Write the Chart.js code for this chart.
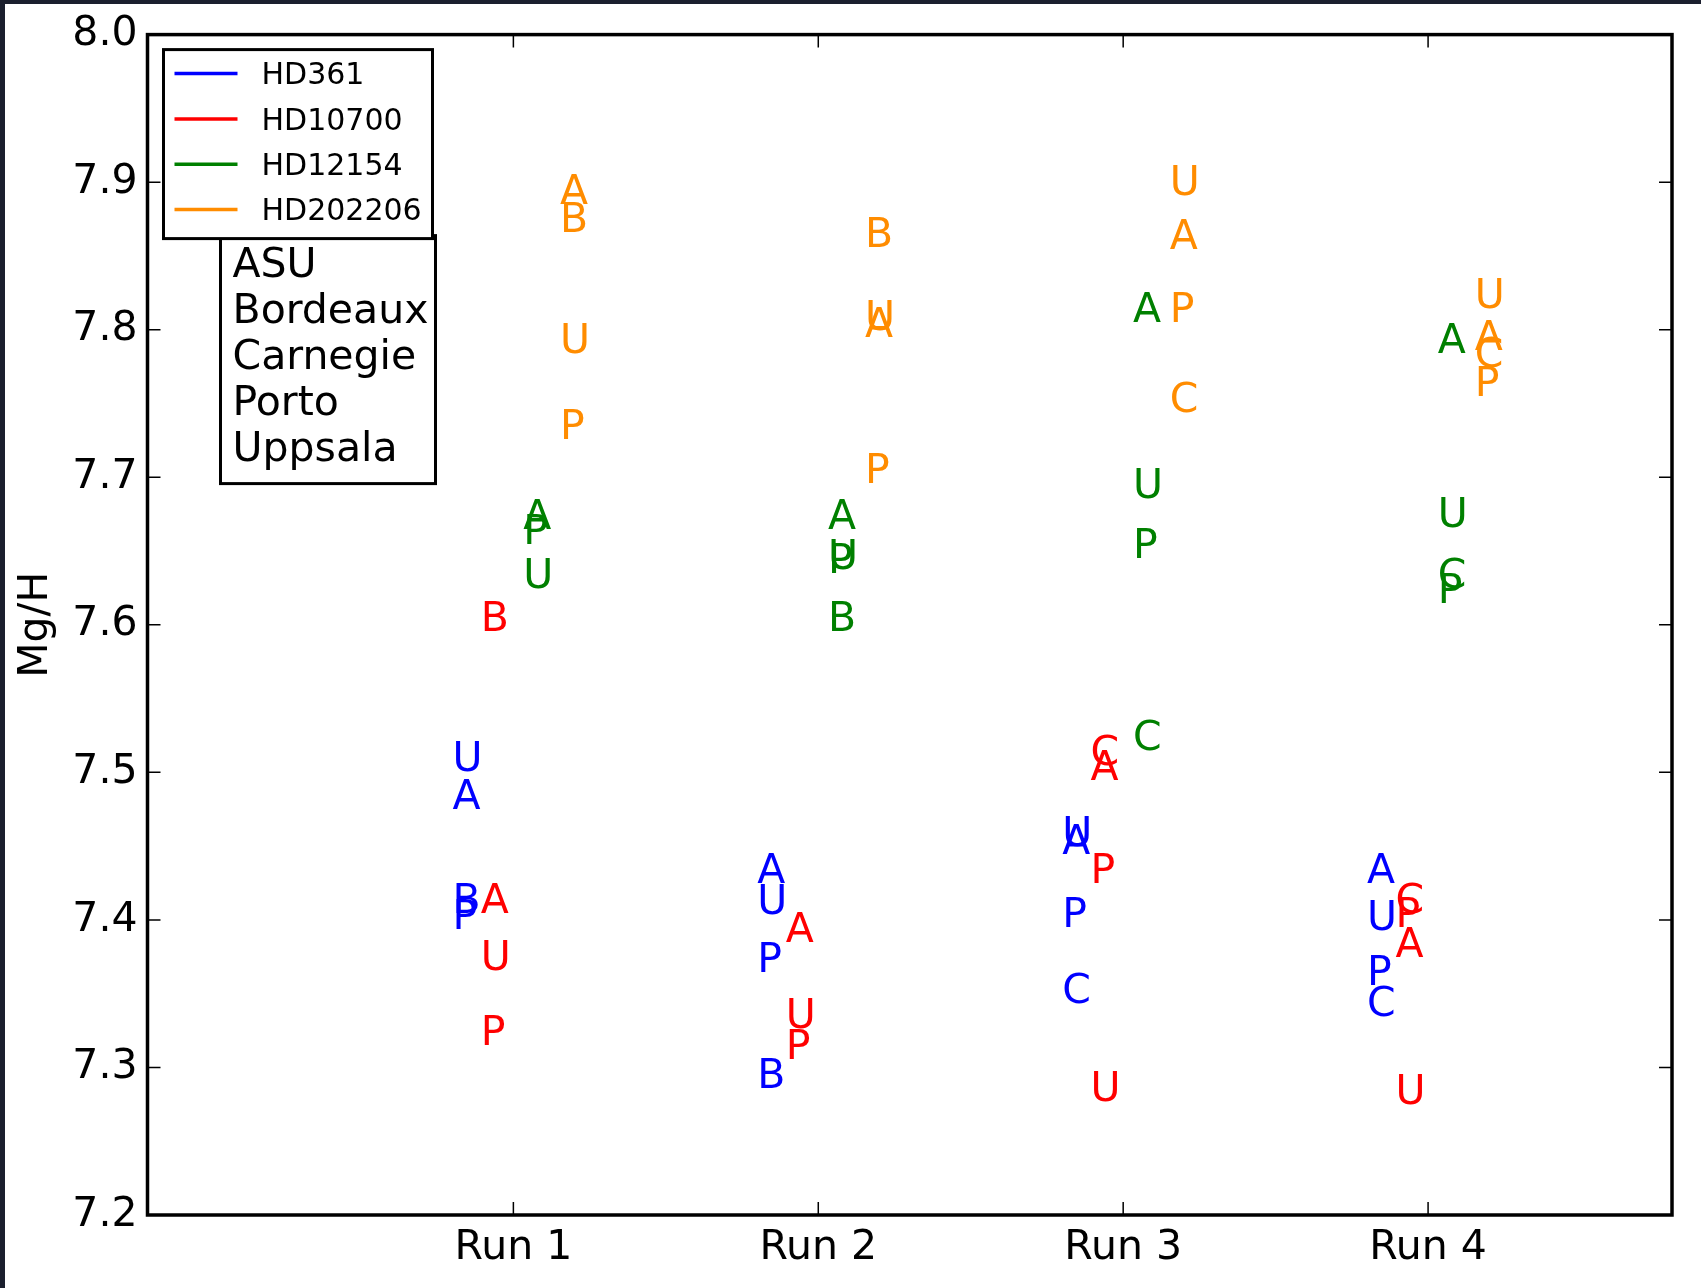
<!DOCTYPE html>
<html>
<head>
<meta charset="utf-8">
<script src="https://cdn.jsdelivr.net/npm/chart.js@4.4.1/dist/chart.umd.min.js"></script>
<style>
  html, body { margin: 0; padding: 0; background: #fff; }
</style>
</head>
<body>
<canvas id="MgH" width="1701" height="1288"></canvas>
<script>
var runs = ['Run 1', 'Run 2', 'Run 3', 'Run 4']
var stars = ['HD361', 'HD10700', 'HD12154', 'HD202206']
var labs = ['ASU', 'Bordeaux', 'Carnegie', 'Porto', 'Uppsala']
var labLetters = ['A', 'B', 'C', 'P', 'U']
var yTicks = [7.2, 7.3, 7.4, 7.5, 7.6, 7.7, 7.8, 7.9, 8.0]

// Mg/H for each lab (rows in labs order), one value per run, null = no result
var HD361 = [
    [7.475, 7.425, 7.445, 7.425],
    [7.405, 7.286, null, null],
    [null, null, 7.344, 7.335],
    [7.394, 7.365, 7.395, 7.356],
    [7.501, 7.404, 7.450, 7.393]
]
var HD10700 = [
    [7.405, 7.385, 7.495, 7.375],
    [7.596, null, null, null],
    [null, null, 7.505, 7.405],
    [7.315, 7.306, 7.425, 7.395],
    [7.366, 7.327, 7.277, 7.275]
]
var HD12154 = [
    [7.665, 7.665, 7.805, 7.784],
    [null, 7.596, null, null],
    [null, null, 7.515, 7.625],
    [7.655, 7.635, 7.645, 7.615],
    [7.625, 7.638, 7.686, 7.666]
]
var HD202206 = [
    [7.885, 7.795, 7.855, 7.786],
    [7.866, 7.856, null, null],
    [null, null, 7.744, 7.775],
    [7.726, 7.696, 7.805, 7.755],
    [7.784, 7.800, 7.891, 7.815]
]
var starValues = [HD361, HD10700, HD12154, HD202206]

var starColors = ['#0000ff', '#ff0000', '#008000', '#ff8c00']
var starShift = [-0.2, -0.107, 0.032, 0.153]   // letters sit a little left/right of the run tick
var FONT = 'DejaVu Sans'

var datasets = stars.map((star, s) => {
    var pts = []
    starValues[s].forEach((row, l) => {
        row.forEach((v, r) => {
            if (v !== null) pts.push({ x: r + 1 + starShift[s], y: v, letter: labLetters[l] })
        })
    })
    return { label: star, data: pts, color: starColors[s] }
})

// draw each point as its lab letter (text anchored left / baseline like matplotlib)
var letterPlugin = {
    id: 'letters',
    afterDatasetsDraw(chart) {
        var ctx = chart.ctx
        ctx.save()
        ctx.font = '41px "' + FONT + '"'
        ctx.textAlign = 'left'
        ctx.textBaseline = 'alphabetic'
        chart.data.datasets.forEach((ds, i) => {
            ctx.fillStyle = ds.color
            chart.getDatasetMeta(i).data.forEach((el, j) => {
                ctx.fillText(ds.data[j].letter, el.x, el.y)
            })
        })
        ctx.restore()
    }
}

// white page with the dark screenshot edges, then frame + inward ticks + the two legend boxes
var framePlugin = {
    id: 'frame',
    beforeDraw(chart) {
        var ctx = chart.ctx
        ctx.save()
        ctx.fillStyle = '#fff'
        ctx.fillRect(0, 0, chart.width, chart.height)
        ctx.restore()
    },
    afterDraw(chart) {
        var ctx = chart.ctx
        var ca = chart.chartArea
        var xs = chart.scales.x, ys = chart.scales.y
        ctx.save()
        ctx.strokeStyle = '#000'
        ctx.lineWidth = 1.5
        ctx.beginPath()
        xs.ticks.forEach(t => {
            var px = xs.getPixelForValue(t.value)
            ctx.moveTo(px, ca.bottom); ctx.lineTo(px, ca.bottom - 13)
            ctx.moveTo(px, ca.top); ctx.lineTo(px, ca.top + 13)
        })
        ys.ticks.forEach(t => {
            var py = ys.getPixelForValue(t.value)
            ctx.moveTo(ca.left, py); ctx.lineTo(ca.left + 13, py)
            ctx.moveTo(ca.right, py); ctx.lineTo(ca.right - 13, py)
        })
        ctx.stroke()
        ctx.lineWidth = 3.5
        ctx.strokeRect(ca.left, ca.top, ca.right - ca.left, ca.bottom - ca.top)

        // lab legend (behind)
        var bx = ca.left + 73, by = ca.top + 201
        ctx.fillStyle = '#fff'
        ctx.lineWidth = 3
        ctx.fillRect(bx, by, 215, 248)
        ctx.strokeRect(bx, by, 215, 248)
        ctx.fillStyle = '#000'
        ctx.font = '41px "' + FONT + '"'
        ctx.textAlign = 'left'
        ctx.textBaseline = 'alphabetic'
        labs.forEach((lab, i) => ctx.fillText(lab, bx + 12, by + 41 + i * 46.2))

        // star legend (front)
        var lx = ca.left + 16, ly = ca.top + 15
        ctx.fillStyle = '#fff'
        ctx.fillRect(lx, ly, 269, 189)
        ctx.strokeRect(lx, ly, 269, 189)
        ctx.font = '30px "' + FONT + '"'
        ctx.textBaseline = 'middle'
        stars.forEach((star, i) => {
            var yy = ly + 24 + i * 45.3
            ctx.strokeStyle = starColors[i]
            ctx.lineWidth = 3.5
            ctx.beginPath()
            ctx.moveTo(lx + 11, yy); ctx.lineTo(lx + 74, yy)
            ctx.stroke()
            ctx.fillStyle = '#000'
            ctx.fillText(star, lx + 98, yy + 3)
        })

        // dark edge of the screenshot
        ctx.fillStyle = '#1b1f2e'
        ctx.fillRect(0, 0, chart.width, 4)
        ctx.fillRect(0, 0, 5, chart.height)
        ctx.restore()
    }
}

var ctx = document.getElementById('MgH').getContext('2d')
var chart = new Chart(ctx, {
    type: 'scatter',
    data: { datasets: datasets },
    options: {
        responsive: false,
        animation: false,
        layout: { padding: { top: 34, right: 29, left: 0, bottom: 0 } },
        elements: { point: { radius: 0, hoverRadius: 0 } },
        plugins: {
            legend: { display: false },
            tooltip: { enabled: false }
        },
        scales: {
            x: {
                type: 'linear',
                min: -0.2,
                max: 4.8,
                afterBuildTicks: scale => { scale.ticks = runs.map((r, i) => ({ value: i + 1 })) },
                afterFit: scale => { scale.height = 73 },
                ticks: {
                    callback: v => runs[Math.round(v) - 1],
                    color: '#000',
                    font: { family: FONT, size: 41 },
                    padding: 9,
                    maxRotation: 0,
                    autoSkip: false
                },
                grid: { display: false, drawTicks: false },
                border: { display: false }
            },
            y: {
                min: 7.2,
                max: 8.0,
                afterBuildTicks: scale => { scale.ticks = yTicks.map(v => ({ value: v })) },
                afterFit: scale => { scale.width = 147.5 },
                ticks: {
                    callback: v => v.toFixed(1),
                    color: '#000',
                    font: { family: FONT, size: 41 },
                    padding: 10
                },
                title: {
                    display: true,
                    text: 'Mg/H',
                    color: '#000',
                    font: { family: FONT, size: 41 },
                    padding: { top: 12, bottom: 0 }
                },
                grid: { display: false, drawTicks: false },
                border: { display: false }
            }
        }
    },
    plugins: [letterPlugin, framePlugin]
})
</script>
</body>
</html>
